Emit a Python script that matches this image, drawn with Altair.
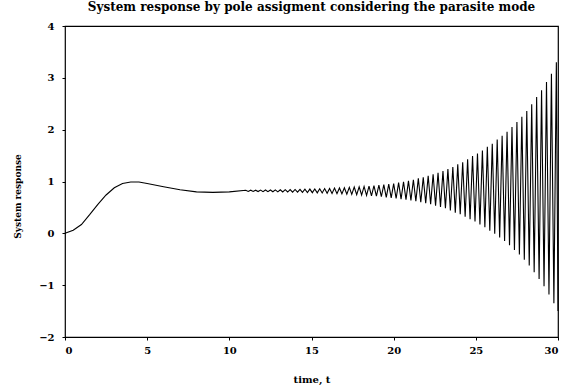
import altair as alt
import pandas as pd

# smooth start of the response
t_start = [0.0, 0.5, 1.0, 1.5, 2.0, 2.5, 3.0, 3.5, 4.0, 4.5, 5.0, 6.0, 7.0, 8.0, 9.0, 10.0]
y_start = [0.0, 0.06, 0.17, 0.36, 0.56, 0.74, 0.88, 0.96, 0.99, 0.99, 0.96, 0.90, 0.84, 0.80, 0.79, 0.80]

# oscillating part: successive extremes (peak, trough, peak, ...)
t_osc = [11.0, 11.15, 11.3, 11.45, 11.6, 11.75, 11.9, 12.05, 12.2, 12.35, 12.5, 12.65, 12.8, 12.95,
         13.1, 13.25, 13.4, 13.55, 13.7, 13.85, 14.0, 14.15, 14.3, 14.45, 14.6, 14.75, 14.9, 15.05,
         15.2, 15.35, 15.5, 15.65, 15.8, 15.95, 16.1, 16.25, 16.4, 16.55, 16.7, 16.85, 17.0, 17.15,
         17.3, 17.45, 17.6, 17.75, 17.9, 18.05, 18.2, 18.35, 18.5, 18.65, 18.8, 18.95, 19.1, 19.25,
         19.4, 19.55, 19.7, 19.85, 20.0, 20.15, 20.3, 20.45, 20.6, 20.75, 20.9, 21.05, 21.2, 21.35,
         21.5, 21.65, 21.8, 21.95, 22.1, 22.25, 22.4, 22.55, 22.7, 22.85, 23.0, 23.15, 23.3, 23.45,
         23.6, 23.75, 23.9, 24.05, 24.2, 24.35, 24.5, 24.65, 24.8, 24.95, 25.1, 25.25, 25.4, 25.55,
         25.7, 25.85, 26.0, 26.15, 26.3, 26.45, 26.6, 26.75, 26.9, 27.05, 27.2, 27.35, 27.5, 27.65,
         27.8, 27.95, 28.1, 28.25, 28.4, 28.55, 28.7, 28.85, 29.0, 29.15, 29.3, 29.45, 29.6, 29.75,
         29.9, 30.0]
y_osc = [0.831, 0.809, 0.832, 0.808, 0.833, 0.807, 0.834, 0.805, 0.836, 0.804, 0.837, 0.803, 0.839, 0.800,
         0.841, 0.798, 0.842, 0.797, 0.844, 0.795, 0.846, 0.793, 0.849, 0.790, 0.851, 0.788, 0.854, 0.785,
         0.857, 0.781, 0.860, 0.778, 0.864, 0.774, 0.867, 0.770, 0.872, 0.766, 0.876, 0.762, 0.880, 0.757,
         0.886, 0.751, 0.892, 0.745, 0.898, 0.739, 0.905, 0.731, 0.912, 0.724, 0.920, 0.716, 0.928, 0.706,
         0.939, 0.694, 0.950, 0.683, 0.960, 0.672, 0.977, 0.661, 0.996, 0.649, 1.013, 0.636, 1.034, 0.618,
         1.060, 0.601, 1.082, 0.582, 1.11, 0.56, 1.14, 0.535, 1.17, 0.51, 1.20, 0.483, 1.24, 0.44,
         1.28, 0.40, 1.33, 0.37, 1.37, 0.32, 1.43, 0.27, 1.49, 0.23, 1.54, 0.17, 1.60, 0.12,
         1.67, 0.05, 1.73, -0.01, 1.81, -0.08, 1.88, -0.15, 1.96, -0.23, 2.05, -0.32, 2.15, -0.41,
         2.25, -0.51, 2.36, -0.62, 2.49, -0.75, 2.63, -0.88, 2.76, -1.02, 2.92, -1.18, 3.08, -1.35,
         3.30, -1.50]

x_ticks = [0, 5, 10, 15, 20, 25, 30]
y_ticks = [-2, -1, 0, 1, 2, 3, 4]

df = pd.DataFrame({"t": t_start + t_osc, "y": y_start + y_osc})
df["order"] = range(len(df))

FONT = "DejaVu Serif"

chart = (
    alt.Chart(df)
    .mark_line(color="black", strokeWidth=1.1)
    .encode(
        x=alt.X("t:Q", scale=alt.Scale(domain=[0, 30], nice=False),
                axis=alt.Axis(values=x_ticks, title="time, t", grid=False, domain=False,
                              tickSize=3, labelPadding=5, titlePadding=19, format="d",
                              titleFontSize=10)),
        y=alt.Y("y:Q", scale=alt.Scale(domain=[-2, 4], nice=False),
                axis=alt.Axis(values=y_ticks, title="System response", grid=False, domain=False,
                              tickSize=3, labelPadding=8, titlePadding=16, format="d",
                              titleFontSize=9, titleY=170)),
        order="order:Q",
    )
    .properties(
        width=493, height=311,
        background="white",
        title=alt.TitleParams("System response by pole assigment considering the parasite mode",
                              font=FONT, fontSize=12, fontWeight="bold", color="black", offset=7),
        autosize=alt.AutoSizeParams(type="none"),
        padding={"left": 65, "top": 26, "right": 18, "bottom": 54},
    )
    .configure_view(stroke="black", strokeWidth=1.2)
    .configure_axis(labelFont=FONT, labelFontSize=10, labelFontWeight="bold", labelColor="black",
                    titleFont=FONT, titleFontWeight="bold", titleColor="black",
                    tickColor="black")
)

chart.save("out.html", embed_options={"renderer": "svg", "actions": False})
